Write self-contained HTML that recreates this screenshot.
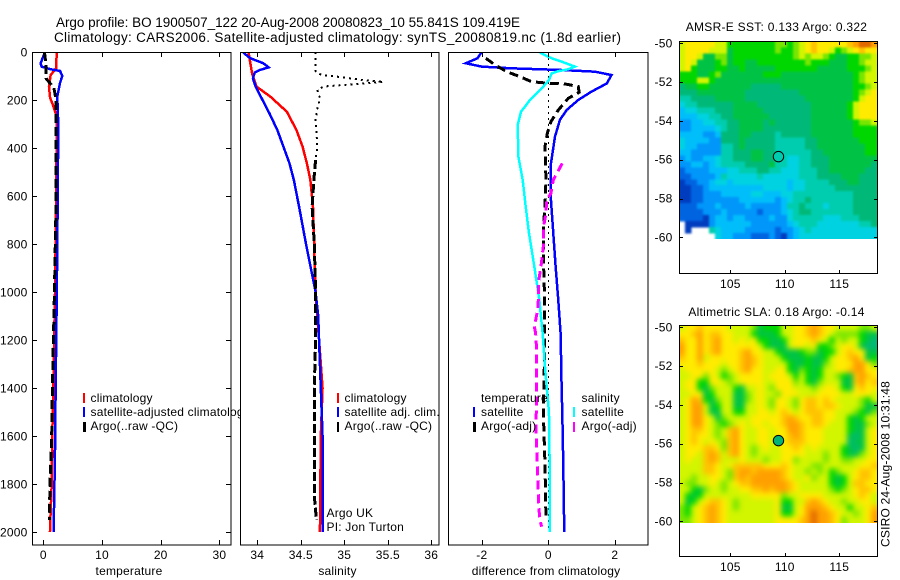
<!DOCTYPE html>
<html>
<head>
<meta charset="utf-8">
<title>Argo profile</title>
<style>
html,body{margin:0;padding:0;background:#fff;}
svg{display:block;}
text{font-family:"Liberation Sans",Arial,sans-serif;font-size:12px;fill:#000;letter-spacing:.2px;}
.t{font-size:13.5px;letter-spacing:0;}
.s{text-anchor:middle;}
.m{letter-spacing:.28px;}
</style>
</head>
<body>
<svg id="chart" xmlns="http://www.w3.org/2000/svg" width="900" height="580" viewBox="0 0 900 580">
<defs>
<clipPath id="c1"><rect x="32" y="52" width="199" height="493"/></clipPath>
<clipPath id="c2"><rect x="240" y="52" width="199" height="493"/></clipPath>
<clipPath id="c3"><rect x="448" y="52" width="200" height="493"/></clipPath>
<clipPath id="sstClip"><rect x="679.5" y="41" width="198" height="198"/></clipPath>
<clipPath id="slaClip"><rect x="679.5" y="325" width="198" height="198"/></clipPath>
<filter id="sstBlur" filterUnits="userSpaceOnUse" x="650" y="0" width="250" height="300" color-interpolation-filters="sRGB"><feGaussianBlur stdDeviation="1.1"/></filter>
<filter id="slaBlur" filterUnits="userSpaceOnUse" x="650" y="290" width="250" height="290" color-interpolation-filters="sRGB"><feGaussianBlur stdDeviation="2.6"/></filter>
</defs>
<rect width="900" height="580" fill="#fff"/>
<text class="t" x="56" y="27" textLength="464">Argo profile: BO 1900507_122 20-Aug-2008 20080823_10 55.841S 109.419E</text>
<text class="t" x="54" y="42" textLength="567">Climatology: CARS2006. Satellite-adjusted climatology: synTS_20080819.nc (1.8d earlier)</text>

<g id="panel1"></g>
<g>
<rect x="83" y="393" width="2" height="10" fill="#f00"/>
<text x="90.5" y="402">climatology</text>
<rect x="83" y="407" width="2" height="10" fill="#00f"/>
<text x="90.5" y="416">satellite-adjusted climatology</text>
<rect x="83" y="422" width="3" height="10" fill="#000"/>
<text x="90.5" y="430">Argo(..raw -QC)</text>
</g>

<g id="panel2"></g>
<g>
<rect x="337" y="393" width="2" height="10" fill="#f00"/>
<text x="344.5" y="402">climatology</text>
<rect x="337" y="407" width="2" height="10" fill="#00f"/>
<text x="344.5" y="416">satellite adj. clim.</text>
<rect x="337" y="422" width="2" height="10" fill="#000"/>
<text x="344.5" y="430">Argo(..raw -QC)</text>
</g>
<text x="326.5" y="517">Argo UK</text>
<text x="326.5" y="531">PI: Jon Turton</text>

<g id="panel3"></g>
<g>
<text x="481" y="402">temperature</text>
<rect x="473" y="407" width="2" height="10" fill="#00f"/>
<text x="481" y="416">satellite</text>
<rect x="473" y="422" width="3" height="10" fill="#000"/>
<text x="481" y="430">Argo(-adj)</text>
<text x="581.5" y="402">salinity</text>
<rect x="573" y="407" width="2" height="10" fill="#0ff"/>
<text x="581.5" y="416">satellite</text>
<rect x="573" y="422" width="2" height="10" fill="#f0f"/>
<text x="581.5" y="430">Argo(-adj)</text>
</g>

<text class="s" x="129" y="575">temperature</text>
<text class="s" x="337.5" y="575">salinity</text>
<text class="s" x="546" y="575">difference from climatology</text>

<text class="s m" x="776.5" y="31">AMSR-E SST: 0.133 Argo: 0.322</text>
<text class="s m" x="776.5" y="316">Altimetric SLA: 0.18 Argo: -0.14</text>
<g id="map1"></g>
<g id="map2"></g>
<text transform="translate(889.5,547)rotate(-90)">CSIRO 24-Aug-2008 10:31:48</text>
</svg>
<script>
// ---------- profile data ----------
var tempTicks = [0, 10, 20, 30];
var salTicks = [34, 34.5, 35, 35.5, 36];
var salTickLabels = ['34', '34.5', '35', '35.5', '36'];
var diffTicks = [-2, 0, 2];
var depthTicks = [0, 200, 400, 600, 800, 1000, 1200, 1400, 1600, 1800, 2000];

var tempClimDepth = [0, 68, 96, 145, 190, 228, 262, 300, 600, 1000, 1394, 1600, 1800, 1950, 2000];
var tempClimValues = [2.28, 2.2, 1.25, 0.97, 1.15, 1.75, 2.2, 2.3, 2.2, 2.0, 1.7, 1.53, 1.43, 1.2, 1.14];
var tempSatDepth = [0, 47, 61, 72, 79, 100, 129, 186, 300, 600, 1000, 1400, 1650, 1800, 2000];
var tempSatValues = [0.29, -0.45, -0.3, 1.25, 2.85, 3.24, 2.85, 2.38, 2.55, 2.46, 2.3, 2.1, 2.0, 1.9, 1.75];
var tempArgoDepth = [0, 60, 110, 130, 150, 200, 400, 600, 1000, 1400, 1600, 1800, 1950];
var tempArgoValues = [0.2, 0.5, 0.46, 1.15, 1.8, 2.2, 2.2, 2.2, 1.9, 1.55, 1.43, 1.14, 1.03];

var salClimDepth = [3, 47, 89, 144, 186, 249, 325, 394, 464, 533, 644, 1000, 1400, 1600, 2000];
var salClimValues = [33.9, 33.92, 33.94, 33.99, 34.15, 34.34, 34.45, 34.52, 34.57, 34.61, 34.64, 34.67, 34.75, 34.73, 34.72];
var salSatDepth = [3, 26, 47, 64, 75, 86, 110, 144, 186, 256, 325, 394, 464, 533, 644, 800, 1000, 1100, 1400, 1600, 2000];
var salSatValues = [33.84, 33.92, 34.07, 34.13, 34.03, 33.97, 33.95, 33.98, 34.04, 34.14, 34.23, 34.3, 34.37, 34.42, 34.48, 34.56, 34.67, 34.7, 34.73, 34.75, 34.75];
var salRawDepth = [0, 80, 89, 96, 105, 117, 125, 137, 144, 158, 192, 236, 280, 394, 450];
var salRawValues = [34.67, 34.67, 34.69, 34.75, 34.97, 35.22, 35.45, 35.0, 34.76, 34.69, 34.72, 34.69, 34.67, 34.69, 34.67];
var salArgoDepth = [450, 533, 590, 644, 800, 1000, 1200, 1400, 1850, 1950];
var salArgoValues = [34.67, 34.65, 34.64, 34.63, 34.655, 34.67, 34.67, 34.655, 34.655, 34.68];

var diffTempSatDepth = [3, 26, 47, 61, 68, 75, 82, 96, 131, 165, 200, 242, 283, 353, 464, 617, 755, 894, 1033, 1172, 1394, 1500, 1714, 2000];
var diffTempSatValues = [-2.02, -2.13, -2.48, -2.0, -1.1, 0.4, 1.4, 1.9, 1.76, 1.3, 0.9, 0.55, 0.35, 0.2, 0.08, 0.08, 0.15, 0.22, 0.3, 0.37, 0.4, 0.42, 0.45, 0.48];
var diffTempArgoDepth = [26, 54, 82, 103, 124, 130, 133, 144, 168, 193, 242, 290, 339, 394, 533, 644, 733, 894, 1033, 1311, 1500, 1714, 1950];
var diffTempArgoValues = [-1.88, -1.6, -1.25, -0.85, -0.5, 0, 0.5, 0.9, 0.93, 0.6, 0.3, 0.08, -0.03, -0.1, -0.07, -0.1, -0.15, -0.14, -0.11, -0.12, -0.15, -0.1, -0.07];
var diffSalSatDepth = [3, 26, 40, 61, 72, 80, 89, 117, 144, 200, 249, 304, 436, 533, 644, 755, 894, 1033, 1172, 1311, 1394, 1436, 1500, 1714, 2000];
var diffSalSatValues = [-0.25, 0.1, 0.4, 0.8, 0.6, 0.3, 0.1, 0.02, -0.15, -0.55, -0.82, -0.92, -0.9, -0.77, -0.68, -0.58, -0.42, -0.27, -0.17, -0.1, -0.05, -0.02, 0.02, 0.04, 0.05];
var diffSalArgoDepth = [464, 533, 589, 617, 672, 733, 811, 894, 963, 1033, 1075, 1117, 1137, 1172, 1242, 1394, 1575, 1754, 1894, 1950, 1978];
var diffSalArgoValues = [0.42, 0.15, 0.08, -0.05, -0.07, -0.15, -0.15, -0.22, -0.3, -0.3, -0.32, -0.38, -0.43, -0.38, -0.35, -0.35, -0.37, -0.32, -0.29, -0.25, -0.2];
var zeroLineDepth = [0, 2000];
var zeroLineValues = [0, 0];

// ---------- map data (one character per cell, level 0-e, '.' = no data) ----------
var lonTicks = [105, 110, 115];
var latTicks = [50, 52, 54, 56, 58, 60];
var floatLon = 109.419;
var floatLat = 55.841;
var sstRows = [
"abbbbbaa888 888889989ab cbbbbbcdeed",
"abbbbaaa788 888889889ab cbba89abcbb",
"abba7799788 888888889a9 aa98778899a",
"aba77789788 77888888889 888777889aa",
"ab877788778 77777888888 8777778889a",
"88877897777 77788877777 777777789aa",
"888aa877777 77777777777 777777789aa",
"67788777777 76666677777 7777777889a",
"66677777777 66666666677 777777789ab",
"55666677777 66666666667 77777778abb",
"45566666677 77666666666 7777778abbb",
"34455566677 77766666666 7777778abbb",
"33344556677 77776666666 7777778abbb",
"22334455667 77767666666 7777777899a",
"22333345667 77766666666 77777778888",
"33332236667 76666566666 77777778888",
"43333226667 66666555556 67777777888",
"43322225567 66666555556 67777777788",
"33222225566 67766555555 66777777788",
"23223345566 67766554455 66677777777",
"22332345555 66667554455 66677777776",
"12222333445 55665544455 56677777766",
"11222235444 44544444455 56666777666",
"01122344344 44444443445 55566677666",
"00112333333 33344443445 55556666666",
"00112223333 34433344555 55555556666",
"00112222223 33333234556 55555556666",
"11122232222 32222235565 55455556666",
"11112223222 22122234566 55555556666",
"11110233233 22223224555 55444555666",
".0000233333 32222223455 54444444556",
".0...543333 22222122345 44444444444",
"......43322 21112102344 44444444444"
];
var slaRows = [
"abbcbbbbaaa a97888aabbc dcbbaaaa99a",
"bbcdbccbbaa a87778aabbc dcba9999877",
"cbbdbcdbbab ab88778abbb cba8a9aa876",
"dbbdbcdbbbb bba8777abba b889abba766",
"dbbdbcdbbbc dbbaa877789 9788abcbb77",
"cbbdabbbbbc dcbaaa87778 778abbcdb78",
"bbbcbbbabbc dcbaaaa8778 779abbbddb9",
"abbbbba9abc dbbaabb8798 78aabbcddbb",
"aabb9ba89ab bbbabbba8a8 78aa987cdcb",
"abb88bba9ab bbbaabbb9a8 79aaa77cdbc",
"abb879aaa87 aaba9bbbaaa 9abba87bcbb",
"aabb78aaa77 9abaa9bbbaa abbbbaabbba",
"abdc879aa77 9aba9bba9bc cbcbaaaa98a",
"abdda78aa77 aaba9bba9bc cbccbaaa977",
"abdda77aa88 aabbabcbabc ccbbaaa9879",
"abddba79aaa abbbbbcdcbb ccbbaa878aa",
"abddba989ab abbabbcddcb ccbaaa8779a",
"abccba9acdb aabbabbddcb bbaaaa877ab",
"abcbba9acdb aabbabbcdcb bbaaaa767ab",
"abcbaba9cdb aabbaabcccb bbaaaa677ab",
"abbbccb9cdb a9abaabbcba baaaa8767ab",
"abbacdcacdb a9aaaabbbba aa9aa8779ab",
"abaacdcaaab aaa9aabb9aa aa9aa99aabb",
"aaaaccbabcc cccbbbcbaaa 99aaaaaabbc",
"aaaaccba9cd dcddddcbaa9 a9a89aabccb",
"aa9aabba9cd cdddddcbaab 9aa878abccb",
"a99aaba9abc cddddddcbaa aaa878accbb",
"aa879aa9aab bccdcddcbaa aaa989abccb",
"a878aaaaaaa abbbbb9aabb bbaaaaabcba",
"a78abccba9a aaaaab88aac dcbaa9aabba",
"98abcdcba9a aaaaab77abd ddcbaa8aabc",
"98abcdcbaaa aaaaab88abd eddcbaa9abd",
"99abcdcbaaa aaaaabbbbcd eddcb9aaabd"
];

// ---------- scales ----------
function yDepth(p) { return 52 + p * 0.24; }
function xTemp(t) { return 43.3 + t * 5.87; }
function xSal(s) { return 344.3 + (s - 35) * 87; }
function xDiff(d) { return 548.3 + d * 33.25; }
function xLon(lon) { return 730.3 + (lon - 105) * 10.9; }
function ySst(lat) { return 43.3 + (lat - 50) * 19.4; }
function ySla(lat) { return 327.3 + (lat - 50) * 19.4; }

var levelColors = {
  '0':'#003cbe','1':'#0064e1','2':'#0096fa','3':'#00befa','4':'#00d2e1','5':'#00cdaf',
  '6':'#00b978','7':'#00c346','8':'#00d700','9':'#78e600','a':'#d2f500','b':'#ffeb00',
  'c':'#ffc300','d':'#ffa000','e':'#e16900'
};
var NS = 'http://www.w3.org/2000/svg';

function mk(tag, parent, attrs) {
  var n = document.createElementNS(NS, tag);
  for (var k in attrs) { n.setAttribute(k, attrs[k]); }
  parent.appendChild(n);
  return n;
}
function drawProfile(parent, depths, values, xFn, color, width, dash) {
  var pts = depths.map(function (p, i) { return xFn(values[i]).toFixed(2) + ',' + yDepth(p).toFixed(2); }).join(' ');
  var attrs = { points: pts, fill: 'none', stroke: color, 'stroke-width': width, 'shape-rendering': 'crispEdges' };
  if (dash) { attrs['stroke-dasharray'] = dash; }
  return mk('polyline', parent, attrs);
}
function drawFrame(parent, x, y, w, h) {
  return mk('rect', parent, { x: x, y: y, width: w, height: h, fill: 'none', stroke: '#000', 'stroke-width': 1, 'shape-rendering': 'crispEdges' });
}
function drawTickLine(parent, x1, y1, x2, y2) {
  return mk('line', parent, { x1: x1, y1: y1, x2: x2, y2: y2, stroke: '#000', 'stroke-width': 1, 'shape-rendering': 'crispEdges' });
}
function drawLabel(parent, x, y, str, anchor) {
  var t = mk('text', parent, { x: x, y: y, 'text-anchor': anchor });
  t.textContent = str;
  return t;
}

function panelBase(group, left, right, clipId) {
  mk('rect', group, { x: left, y: 52, width: right - left, height: 493, fill: '#fff' });
  var plot = mk('g', group, { 'clip-path': 'url(#' + clipId + ')' });
  
  
  return plot;
}
function xAxis(group, ticks, labels, fn) {
  ticks.forEach(function (v, i) {
    var x = Math.round(fn(v)) + 0.5;
    var top = drawTickLine(group, x, 52, x, 57);
    
    
    var bot = drawTickLine(group, x, 545, x, 540);
    
    
    var lab = drawLabel(group, fn(v), 559, labels[i], 'middle');
    
    
  });
}

// ---------- panel 1: temperature ----------
var g1 = document.getElementById('panel1');
var plot1 = panelBase(g1, 32, 231, 'c1');
var s;
s = drawProfile(plot1, tempClimDepth, tempClimValues, xTemp, '#f00', 2.5);


s = drawProfile(plot1, tempSatDepth, tempSatValues, xTemp, '#00f', 2.5);


s = drawProfile(plot1, tempArgoDepth, tempArgoValues, xTemp, '#000', 3, '9 4');


s = drawFrame(g1, 32.5, 52.5, 198.5, 492.5);


xAxis(g1, tempTicks, tempTicks.map(String), xTemp);
depthTicks.forEach(function (p) {
  var y = Math.round(yDepth(p)) + 0.5;
  var l = drawTickLine(g1, 32, y, 37, y);
  
  
  var r = drawTickLine(g1, 231, y, 226, y);
  
  
  var t = drawLabel(g1, 27.5, yDepth(p) + 4.5, String(p), 'end');
  
  
});

// ---------- panel 2: salinity ----------
var g2 = document.getElementById('panel2');
var plot2 = panelBase(g2, 240, 439, 'c2');
s = drawProfile(plot2, salClimDepth, salClimValues, xSal, '#f00', 2.5);


s = drawProfile(plot2, salSatDepth, salSatValues, xSal, '#00f', 2.5);


s = drawProfile(plot2, salRawDepth, salRawValues, xSal, '#000', 2, '2 4');


s = drawProfile(plot2, salArgoDepth, salArgoValues, xSal, '#000', 3, '9 3');


s = drawFrame(g2, 240.5, 52.5, 198.5, 492.5);


xAxis(g2, salTicks, salTickLabels, xSal);

// ---------- panel 3: difference ----------
var g3 = document.getElementById('panel3');
var plot3 = panelBase(g3, 448, 648, 'c3');
s = drawProfile(plot3, zeroLineDepth, zeroLineValues, xDiff, '#000', 1, '2 4');


s = drawProfile(plot3, diffTempSatDepth, diffTempSatValues, xDiff, '#00f', 2.5);


s = drawProfile(plot3, diffTempArgoDepth, diffTempArgoValues, xDiff, '#000', 3, '9 5');


s = drawProfile(plot3, diffSalSatDepth, diffSalSatValues, xDiff, '#0ff', 2.5);


s = drawProfile(plot3, diffSalArgoDepth, diffSalArgoValues, xDiff, '#f0f', 3, '9 5');


s = drawFrame(g3, 448.5, 52.5, 199.5, 492.5);


xAxis(g3, diffTicks, diffTicks.map(String), xDiff);

// ---------- maps ----------
function drawMap(group, rows, yFn, latTop, latBottom, frameTop, frameBottom, dotFill, clipId, blurId) {
  var lonLeft = 100.3;
  var lonRight = 118.48;
  var nRows = rows.length;
  var clip = mk('g', group, { 'clip-path': 'url(#' + clipId + ')' });
  
  
  var image = mk('g', clip, { filter: 'url(#' + blurId + ')' });
  
  
  rows.forEach(function (row, r) {
    var chars = row.replace(/ /g, '');
    var y0 = yFn(latTop + (latBottom - latTop) * r / nRows);
    var y1 = yFn(latTop + (latBottom - latTop) * (r + 1) / nRows);
    if (r === 0) { y0 -= 10; }
    if (r === nRows - 1) { y1 += 10; }
    for (var i = 0; i < chars.length; i++) {
      var c = levelColors[chars[i]];
      if (!c) { continue; }
      var x0 = xLon(lonLeft + (lonRight - lonLeft) * i / chars.length);
      var x1 = xLon(lonLeft + (lonRight - lonLeft) * (i + 1) / chars.length);
      if (i === 0) { x0 -= 10; }
      if (i === chars.length - 1) { x1 += 10; }
      var cell = mk('rect', image, { x: x0.toFixed(2), y: y0.toFixed(2), width: (x1 - x0 + 0.4).toFixed(2), height: (y1 - y0 + 0.4).toFixed(2), fill: c, 'shape-rendering': 'crispEdges' });
      
      
    }
  });
  var frame = drawFrame(group, 679.5, frameTop + 0.5, 198, frameBottom - frameTop);
  
  
  latTicks.forEach(function (lat) {
    var y = Math.round(yFn(lat)) + 0.5;
    var a = drawTickLine(group, 679, y, 683, y);
    
    
    var b = drawTickLine(group, 878, y, 874, y);
    
    
    var t = drawLabel(group, 672.5, yFn(lat) + 4, '-' + lat, 'end');
    
    
  });
  lonTicks.forEach(function (lon) {
    var x = Math.round(xLon(lon)) + 0.5;
    var a = drawTickLine(group, x, frameTop, x, frameTop + 4);
    
    
    var b = drawTickLine(group, x, frameBottom + 1, x, frameBottom - 3);
    
    
    var t = drawLabel(group, xLon(lon), frameBottom + 15, String(lon), 'middle');
    
    
  });
  var dot = mk('circle', group, { cx: xLon(floatLon), cy: yFn(floatLat), r: 5.2, fill: dotFill, stroke: '#000', 'stroke-width': 1 });
  
  
}
drawMap(document.getElementById('map1'), sstRows, ySst, 49.92, 60.09, 41, 273, '#00cdaf', 'sstClip', 'sstBlur');
drawMap(document.getElementById('map2'), slaRows, ySla, 49.88, 60.07, 325, 556, '#00b478', 'slaClip', 'slaBlur');
</script>
</body>
</html>
